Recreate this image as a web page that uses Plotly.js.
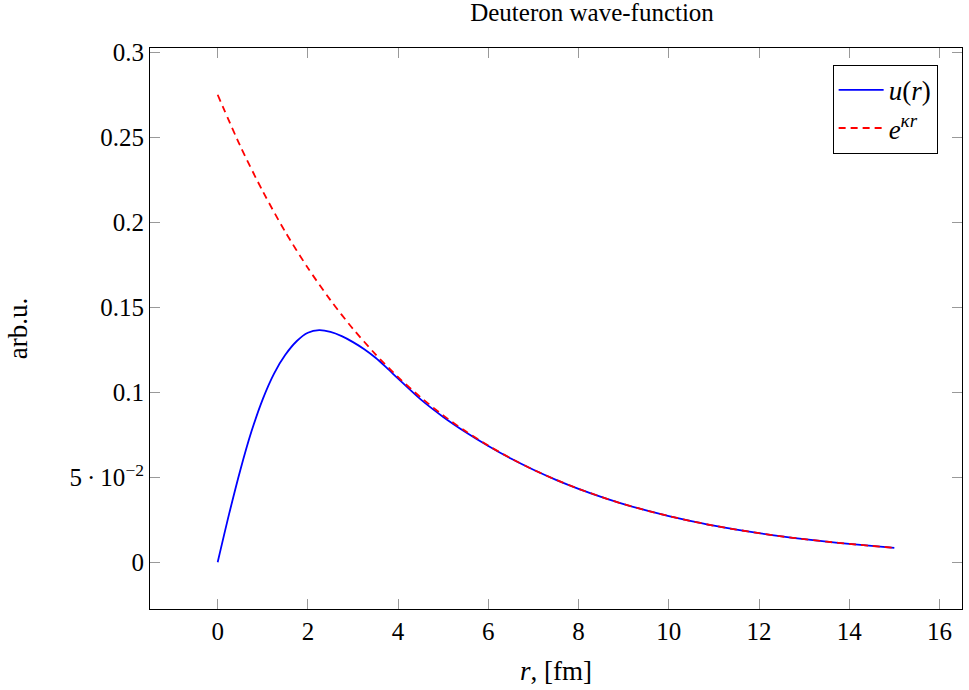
<!DOCTYPE html>
<html>
<head>
<meta charset="utf-8">
<script src="https://cdn.plot.ly/plotly-3.0.1.min.js"></script>
<style>html,body{margin:0;padding:0;background:#fff;}#chart{width:969px;height:690px;}</style>
</head>
<body>
<div id="chart"></div>
<script>
// u(r): Deuteron radial wave-function
const rU = [0, 0.25, 0.5, 0.75, 1.0, 1.25, 1.5, 1.75, 2.0, 2.25, 2.5, 2.75, 3.0, 3.25, 3.5, 3.75, 4.0, 4.5, 5.0, 5.5, 6.0, 6.5, 7.0, 7.5, 8.0, 8.5, 9.0, 9.5, 10.0, 10.5, 11.0, 11.5, 12.0, 12.5, 13.0, 13.5, 14.0, 14.5, 15.0];
const uVals = [0, 0.0280, 0.0540, 0.0770, 0.0960, 0.1110, 0.1220, 0.1300, 0.1350, 0.1365, 0.1355, 0.1330, 0.1295, 0.1253, 0.1203, 0.1143, 0.1080, 0.0958, 0.0855, 0.0765, 0.0684, 0.0610, 0.0544, 0.0485, 0.0432, 0.0385, 0.0342, 0.0305, 0.0272, 0.0242, 0.0215, 0.0192, 0.0171, 0.0152, 0.0136, 0.0121, 0.0108, 0.0096, 0.0085];

// e^{kappa r} asymptotic curve
const rE = [0, 0.5, 1, 1.5, 2, 2.5, 3, 3.5, 4, 4.5, 5, 5.5, 6, 6.5, 7, 7.5, 8, 8.5, 9, 9.5, 10, 10.5, 11, 11.5, 12, 12.5, 13, 13.5, 14, 14.5, 15];
const eVals = [0.2750, 0.2449, 0.2182, 0.1943, 0.1731, 0.1542, 0.1373, 0.1223, 0.1089, 0.0970, 0.0864, 0.0770, 0.0686, 0.0611, 0.0544, 0.0485, 0.0432, 0.0385, 0.0342, 0.0305, 0.0272, 0.0242, 0.0215, 0.0192, 0.0171, 0.0152, 0.0136, 0.0121, 0.0108, 0.0096, 0.0085];

const xTickVals = [0, 2, 4, 6, 8, 10, 12, 14, 16];
const yTickVals = [0, 0.05, 0.1, 0.15, 0.2, 0.25, 0.3];
const yTickText = ['0', '5\u2009·\u200910<sup>−2</sup>', '0.1', '0.15', '0.2', '0.25', '0.3'];

const FONT = 'Liberation Serif, Times New Roman, serif';

const traces = [
  {x: rU, y: uVals, type: 'scatter', mode: 'lines', name: '<i>u</i>(<i>r</i>)',
   line: {color: '#0000ff', width: 1.8, shape: 'spline', smoothing: 0.8}},
  {x: rE, y: eVals, type: 'scatter', mode: 'lines', name: '<i>e</i><sup><i>κr</i></sup>',
   line: {color: '#ff0000', width: 1.8, dash: '7px,5px', shape: 'spline', smoothing: 0.8}}
];

const axisCommon = {
  showline: true, linecolor: '#000', linewidth: 1, mirror: 'ticks',
  ticks: 'inside', ticklen: 10, tickcolor: '#999', tickwidth: 1,
  showgrid: false, zeroline: false,
  tickfont: {family: FONT, size: 25, color: '#000'}
};

const layout = {
  width: 969, height: 690,
  margin: {l: 150, r: 7, t: 48, b: 81},
  paper_bgcolor: '#fff', plot_bgcolor: '#fff',
  font: {family: FONT, color: '#000'},
  title: {text: 'Deuteron wave-function', font: {family: FONT, size: 25, color: '#000'},
          x: 0.611, xanchor: 'center', y: 0.982, yanchor: 'middle'},
  xaxis: Object.assign({}, axisCommon, {
    range: [-1.5, 16.5], tickmode: 'array', tickvals: xTickVals,
    ticktext: xTickVals.map(String),
    title: {text: '<i>r</i>, [fm]', font: {family: FONT, size: 27, color: '#000'}, standoff: 17}
  }),
  yaxis: Object.assign({}, axisCommon, {
    range: [-0.0275, 0.3025], tickmode: 'array', tickvals: yTickVals, ticktext: yTickText,
    title: {text: 'arb.u.', font: {family: FONT, size: 27, color: '#000'}, standoff: 34}
  }),
  legend: {x: 0.97, xanchor: 'right', y: 0.97, yanchor: 'top',
           bordercolor: '#000', borderwidth: 1, bgcolor: '#fff', itemwidth: 45,
           font: {family: FONT, size: 27, color: '#000'}},
  showlegend: true
};

Plotly.newPlot('chart', traces, layout, {displayModeBar: false, staticPlot: true});
</script>
</body>
</html>
